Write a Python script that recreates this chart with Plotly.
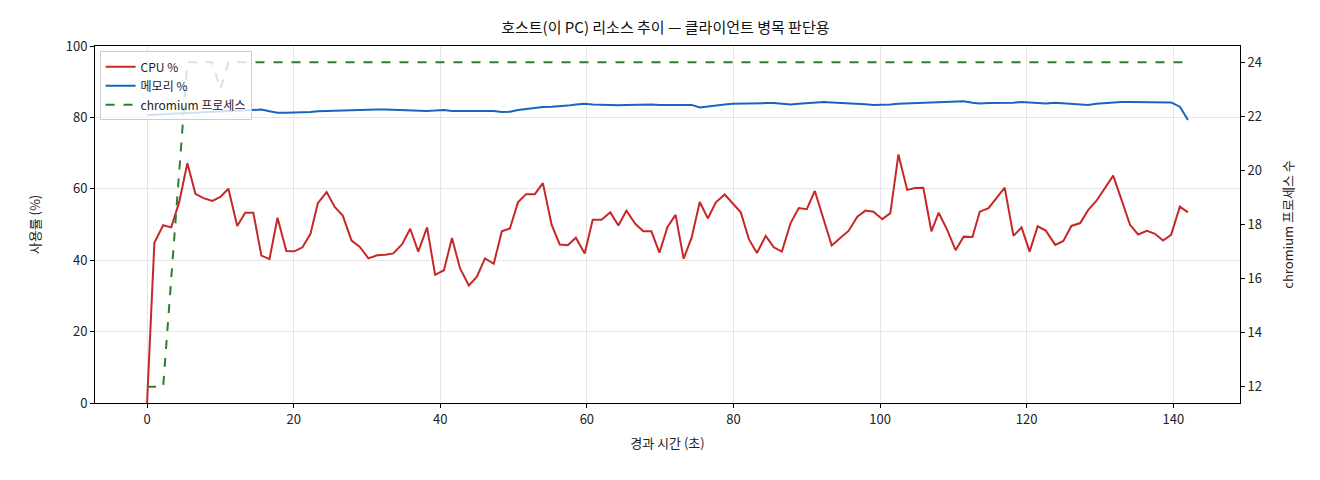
import plotly.graph_objects as go

## 경과 시간 (초) - 샘플링 시점
elapsed = [0, 1.0, 2.2, 3.3, 4.4, 5.5, 6.6, 7.7, 8.9, 10.0, 11.1, 12.3, 13.4, 14.5, 15.6, 16.7,
           17.8, 19.0, 20.1, 21.2, 22.3, 23.3, 24.5, 25.6, 26.7, 27.9, 29.0, 30.2, 31.4, 32.5,
           33.6, 34.8, 35.9, 37.0, 38.2, 39.3, 40.5, 41.6, 42.7, 43.9, 45.0, 46.1, 47.3, 48.4,
           49.5, 50.6, 51.7, 52.9, 54.0, 55.2, 56.3, 57.4, 58.5, 59.7, 60.8, 62.0, 63.2, 64.3,
           65.4, 66.6, 67.7, 68.8, 69.9, 71.0, 72.1, 73.2, 74.3, 75.4, 76.5, 77.6, 78.8, 79.9,
           81.0, 82.1, 83.2, 84.4, 85.5, 86.6, 87.8, 88.9, 90.0, 91.1, 92.3, 93.4, 94.6, 95.7,
           96.9, 98.0, 99.1, 100.3, 101.4, 102.5, 103.7, 104.8, 105.9, 107.0, 108.0, 109.2,
           110.3, 111.4, 112.6, 113.6, 114.8, 115.9, 117.0, 118.2, 119.3, 120.4, 121.5, 122.6,
           123.9, 125.0, 126.1, 127.3, 128.4, 129.5, 130.7, 131.8, 132.9, 134.1, 135.2, 136.4,
           137.5, 138.6, 139.7, 140.9, 142.0]

cpu_pct = [0, 44.9, 49.8, 49.2, 56.4, 67.2, 58.6, 57.4, 56.6, 57.7, 60.0, 49.6, 53.3, 53.3, 41.3, 40.3,
           51.9, 42.6, 42.5, 43.6, 47.4, 56.0, 59.1, 54.9, 52.5, 45.5, 43.8, 40.5, 41.4, 41.5,
           41.9, 44.5, 48.8, 42.4, 49.2, 35.9, 37.2, 46.2, 37.7, 32.9, 35.4, 40.5, 39.0, 48.1,
           48.9, 56.2, 58.5, 58.5, 61.6, 49.9, 44.4, 44.2, 46.3, 41.9, 51.3, 51.3, 53.4, 49.7,
           53.9, 50.2, 48.1, 48.1, 42.1, 49.3, 52.7, 40.4, 46.4, 56.3, 51.7, 56.2, 58.4, 55.8,
           53.4, 45.9, 42.0, 46.8, 43.6, 42.4, 50.4, 54.6, 54.3, 59.4, 51.6, 44.1, 46.3, 48.2,
           52.2, 53.9, 53.6, 51.5, 53.2, 69.6, 59.7, 60.2, 60.3, 48.1, 53.3, 48.3,
           42.8, 46.6, 46.5, 53.6, 54.6, 57.6, 60.3, 46.8, 49.2, 42.4, 49.5, 48.3,
           44.3, 45.4, 49.6, 50.4, 54.1, 56.6, 60.4, 63.7, 57.1, 49.9, 47.2, 48.2,
           47.4, 45.5, 47.1, 55.0, 53.4]

mem_pct = [80.6, 80.8, 80.9, 81.0, 81.1, 81.2, 81.3, 81.4, 81.5, 81.6, 81.7, 81.8, 81.9, 82.0, 82.2, 81.7,
           81.3, 81.3, 81.3, 81.4, 81.5, 81.7, 81.8, 81.9, 82.0, 82.1, 82.2, 82.2, 82.2, 82.2,
           82.1, 81.9, 81.8, 81.8, 81.8, 81.9, 82.1, 81.8, 81.8, 81.9, 81.9, 81.8, 81.8, 81.5,
           81.6, 82.1, 82.4, 82.8, 82.9, 83.0, 83.1, 83.3, 83.6, 83.8, 83.6, 83.5, 83.4, 83.4,
           83.5, 83.6, 83.7, 83.6, 83.5, 83.5, 83.5, 83.5, 83.5, 82.8, 83.1, 83.4, 83.6, 83.8,
           83.9, 84.0, 84.0, 84.0, 84.0, 83.8, 83.6, 83.8, 84.0, 84.1, 84.3, 84.2, 84.1, 84.0,
           83.9, 83.7, 83.5, 83.5, 83.6, 83.8, 83.9, 84.1, 84.2, 84.3, 84.4, 84.5,
           84.6, 84.5, 84.1, 83.9, 84.0, 84.0, 84.0, 84.1, 84.3, 84.1, 84.0, 83.9,
           84.1, 84.0, 83.8, 83.7, 83.5, 83.8, 84.0, 84.2, 84.3, 84.3, 84.3, 84.3,
           84.3, 84.3, 84.2, 83.0, 79.3]

chromium_procs = [12, 12, 12, 16, 20, 24, 24, 24, 24, 23] + [24] * 117 + [18, 12]

FONT = "Noto Sans CJK KR"
GRID = "#e6e6e6"

fig = go.Figure()
fig.add_trace(go.Scatter(x=elapsed, y=cpu_pct, name="CPU %", mode="lines",
                         line=dict(color="#c62828", width=2)))
fig.add_trace(go.Scatter(x=elapsed, y=mem_pct, name="메모리 %", mode="lines",
                         line=dict(color="#1565c0", width=2)))
fig.add_trace(go.Scatter(x=elapsed, y=chromium_procs, name="chromium 프로세스", mode="lines",
                         yaxis="y2", line=dict(color="#2e7d32", width=2, dash="dash")))

axis_common = dict(showline=True, linecolor="black", linewidth=1, ticks="outside",
                   ticklen=4, tickcolor="black", zeroline=False,
                   tickfont=dict(size=13, color="#222"))

## the page body adds an 8px offset, so margins are shifted to compensate
fig.update_layout(
    width=1320, height=480,
    font=dict(family=FONT, color="#222"),
    paper_bgcolor="white", plot_bgcolor="white",
    margin=dict(l=87, r=88, t=38, b=85),
    title=dict(text="호스트(이 PC) 리소스 추이 — 클라이언트 병목 판단용",
               x=0.498, xanchor="center", y=0.958, yanchor="middle",
               font=dict(size=15, color="#111")),
    xaxis=dict(axis_common, range=[-7.1, 149.1], tickvals=[0, 20, 40, 60, 80, 100, 120, 140],
               mirror=True, showgrid=True, gridcolor=GRID,
               title=dict(text="경과 시간 (초)", font=dict(size=13), standoff=12)),
    yaxis=dict(axis_common, range=[0, 100], tickvals=[0, 20, 40, 60, 80, 100],
               showgrid=True, gridcolor=GRID,
               title=dict(text="사용률 (%)", font=dict(size=13), standoff=22)),
    yaxis2=dict(axis_common, range=[11.4, 24.6], tickvals=[12, 14, 16, 18, 20, 22, 24],
                overlaying="y", side="right", showgrid=False,
                title=dict(text="chromium 프로세스 수", font=dict(size=13), standoff=22)),
    legend=dict(x=0.004, y=0.985, xanchor="left", yanchor="top",
                bgcolor="rgba(255,255,255,0.8)", bordercolor="#cccccc", borderwidth=1,
                font=dict(size=12), tracegroupgap=0, itemwidth=30),
    showlegend=True,
)

fig.write_html("out.html")
